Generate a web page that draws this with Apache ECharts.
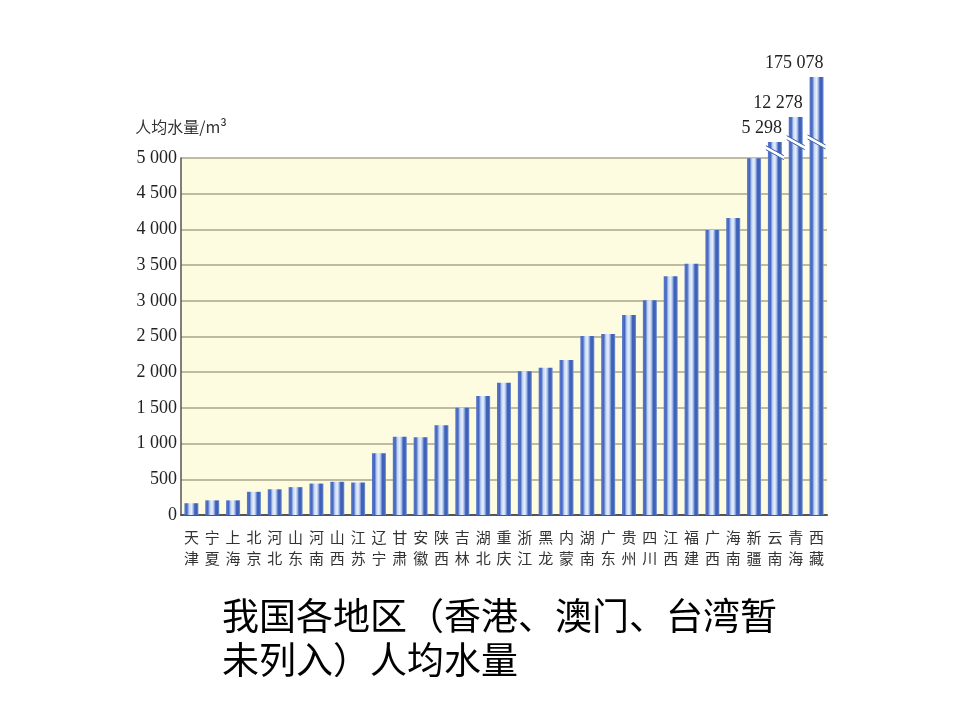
<!DOCTYPE html>
<html><head><meta charset="utf-8">
<script src="https://cdn.jsdelivr.net/npm/echarts@6/dist/echarts.min.js"></script>
<style>html,body{margin:0;padding:0;background:#fff}#c{width:960px;height:720px}</style>
</head><body><div id="c"></div>
<script>
// Categories (provinces; 黑龙江 / 内蒙古 are cropped to two characters in the original)
const regions = ['天津','宁夏','上海','北京','河北','山东','河南','山西','江苏','辽宁','甘肃','安徽','陕西','吉林','湖北','重庆','浙江','黑龙','内蒙','湖南','广东','贵州','四川','江西','福建','广西','海南','新疆','云南','青海','西藏'];
// Per-capita water resources, m³
const waterPerCapita = [165,205,205,325,360,390,440,465,455,865,1095,1088,1258,1502,1665,1852,2015,2062,2170,2508,2535,2800,3008,3345,3520,3990,4160,4995,5298,12278,175078];
// Bars drawn with an axis break: their indices, the height at which they are drawn, and the break level
const brokenIndex = [28,29,30];
const brokenDrawnTop = [5225,5575,6135];
const breakLevel = [5075,5215,5225];
// Y axis
const yMin = 0, yMax = 5000, yStep = 500;
const yName = '人均水量/m³';
const caption = '我国各地区（香港、澳门、台湾暂\n未列入）人均水量';

function fmt(v){
  if (v < 1000) return String(v);
  const s = String(v);
  const head = s.slice(0, s.length-3), tail = s.slice(-3);
  return head + ' ' + tail;
}

const barColor = new echarts.graphic.LinearGradient(0,0,1,0,[
  {offset:0,color:'#5a7bcb'},{offset:0.18,color:'#4566bf'},{offset:0.34,color:'#c6d8f4'},
  {offset:0.5,color:'#e9f0fb'},{offset:0.62,color:'#a5bdea'},{offset:0.74,color:'#4062ba'},
  {offset:0.88,color:'#3e60b5'},{offset:1,color:'#7a97d8'}
]);

const barData = waterPerCapita.map((v,i)=>{
  const k = brokenIndex.indexOf(i);
  if (k < 0) return v;
  return {value: brokenDrawnTop[k], label:{show:true}};
});

const chart = echarts.init(document.getElementById('c'), null, {renderer:'canvas'});
chart.setOption({
  animation:false,
  backgroundColor:'#ffffff',
  title:{
    text: caption, left: 217, top: 589,
    textStyle:{fontFamily:'Noto Sans CJK SC', fontSize:37, fontWeight:'normal', color:'#000', lineHeight:44}
  },
  grid:{left:181, right:133, top:158, bottom:205, show:true, backgroundColor:'#fdfbe0', borderWidth:0},
  xAxis:{
    type:'category', data: regions,
    axisLine:{show:true, lineStyle:{color:'#555', width:2}},
    axisTick:{show:false},
    axisLabel:{
      interval:0, margin:12, color:'#333',
      fontFamily:'Noto Sans CJK SC', fontSize:15, lineHeight:21,
      formatter: v => v.split('').join('\n')
    }
  },
  yAxis:{
    type:'value', min:yMin, max:yMax, interval:yStep,
    name: yName, nameGap: 23,
    nameTextStyle:{fontFamily:'Noto Sans CJK SC', fontSize:16, color:'#333'},
    axisLine:{show:true, lineStyle:{color:'#555', width:1.5}},
    axisTick:{show:false},
    axisLabel:{margin:4, color:'#222', fontFamily:'Liberation Serif', fontSize:18, formatter: fmt},
    splitLine:{show:true, lineStyle:{color:'#aaa68d', width:1.5}}
  },
  series:[
    {
      type:'bar', data: barData, barWidth: 14, clip:false,
      itemStyle:{color: barColor},
      label:{
        show:false, position:[14,-5], align:'right', verticalAlign:'bottom',
        fontFamily:'Liberation Serif', fontSize:18, color:'#222',
        formatter: p => fmt(waterPerCapita[p.dataIndex])
      },
      z:2
    },
    {
      type:'custom', clip:false, z:5,
      data: brokenIndex.map((idx,k)=>[idx, breakLevel[k]]),
      renderItem(params, api){
        const p = api.coord([api.value(0), api.value(1)]);
        const hw = 9, d = 5, t = 2;
        return {
          type:'group',
          children:[
            {type:'polygon', shape:{points:[[p[0]-hw,p[1]-d-t],[p[0]+hw,p[1]+d-t],[p[0]+hw,p[1]+d+t],[p[0]-hw,p[1]-d+t]]},
             style:{fill:'#ffffff'}},
            {type:'line', shape:{x1:p[0]-hw,y1:p[1]-d-t,x2:p[0]+hw,y2:p[1]+d-t}, style:{stroke:'#3c5fb3', lineWidth:1}},
            {type:'line', shape:{x1:p[0]-hw,y1:p[1]-d+t,x2:p[0]+hw,y2:p[1]+d+t}, style:{stroke:'#3c5fb3', lineWidth:1}}
          ]
        };
      }
    }
  ]
});
</script>
</body></html>
